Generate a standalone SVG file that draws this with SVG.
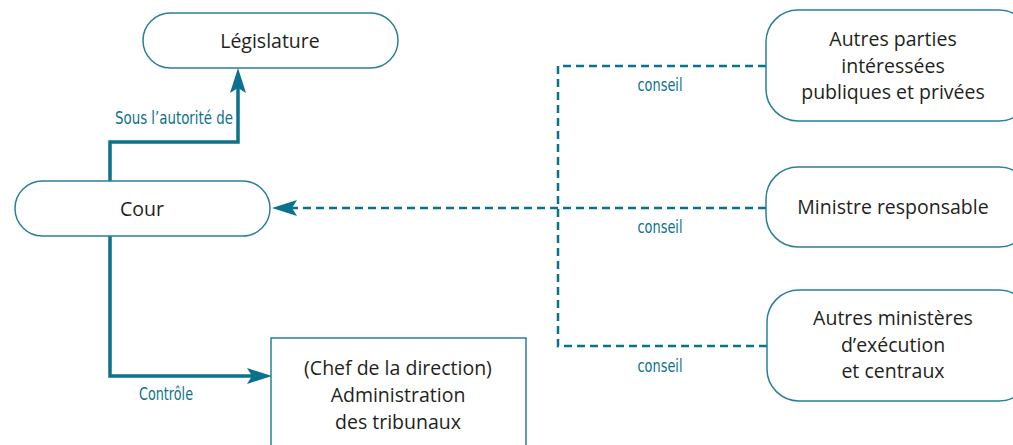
<svg xmlns="http://www.w3.org/2000/svg" width="1013" height="445" viewBox="0 0 1013 445">
<style>
.node{fill:#fff;stroke:#2a7f9b;stroke-width:1.5}
.nt{font-family:"Open Sans","Noto Sans",sans-serif;font-size:19.5px;fill:#231f20;text-anchor:middle}
.lbl{font-family:"DejaVu Sans Condensed","Liberation Sans",sans-serif;font-size:17.5px;fill:#0b718c;text-anchor:middle}
.solid{fill:none;stroke:#0b718c;stroke-width:3.5}
.dash{fill:none;stroke:#0b718c;stroke-width:2.5;stroke-dasharray:8 5}
</style>
<g id="connectors">
<path class="solid" d="M110,181 V142 H238 V82" />
<path d="M230,93 L238,68 L246,93 L238,88 Z" fill="#0b718c"/>
<path class="solid" d="M110,236 V376 H258" />
<path d="M247,368 L272,376 L247,384 L252,376 Z" fill="#0b718c"/>
<path class="dash" d="M766,66 H558 V346 H767" />
<path class="dash" d="M766,208 H290" />
<path d="M297,200 L272,208 L297,216 L292,208 Z" fill="#0b718c"/>
<text class="lbl" x="174" y="124" textLength="118" lengthAdjust="spacingAndGlyphs">Sous l’autorité de</text>
<text class="lbl" x="166" y="400" textLength="54" lengthAdjust="spacingAndGlyphs">Contrôle</text>
<text class="lbl" x="660" y="91" textLength="45" lengthAdjust="spacingAndGlyphs">conseil</text>
<text class="lbl" x="660" y="233" textLength="45" lengthAdjust="spacingAndGlyphs">conseil</text>
<text class="lbl" x="660" y="372" textLength="45" lengthAdjust="spacingAndGlyphs">conseil</text>
</g>
<g id="legislature">
<rect class="node" x="143" y="13" width="255" height="55" rx="27.5"/>
<text class="nt" x="270" y="48">Législature</text>
</g>
<g id="cour">
<rect class="node" x="15" y="181" width="255" height="55" rx="27.5"/>
<text class="nt" x="142" y="216">Cour</text>
</g>
<g id="administration">
<rect class="node" x="271" y="338" width="255" height="120"/>
<text class="nt" x="398" y="375">(Chef de la direction)</text>
<text class="nt" x="398" y="402">Administration</text>
<text class="nt" x="398" y="429">des tribunaux</text>
</g>
<g id="autres-parties">
<rect class="node" x="766" y="10" width="265" height="111" rx="32"/>
<text class="nt" x="893" y="46">Autres parties</text>
<text class="nt" x="893" y="73">intéressées</text>
<text class="nt" x="893" y="99">publiques et privées</text>
</g>
<g id="ministre">
<rect class="node" x="766" y="167" width="265" height="80" rx="32"/>
<text class="nt" x="893" y="214">Ministre responsable</text>
</g>
<g id="autres-ministeres">
<rect class="node" x="767" y="290" width="264" height="111" rx="32"/>
<text class="nt" x="893" y="325">Autres ministères</text>
<text class="nt" x="893" y="352">d’exécution</text>
<text class="nt" x="893" y="378">et centraux</text>
</g>
</svg>
